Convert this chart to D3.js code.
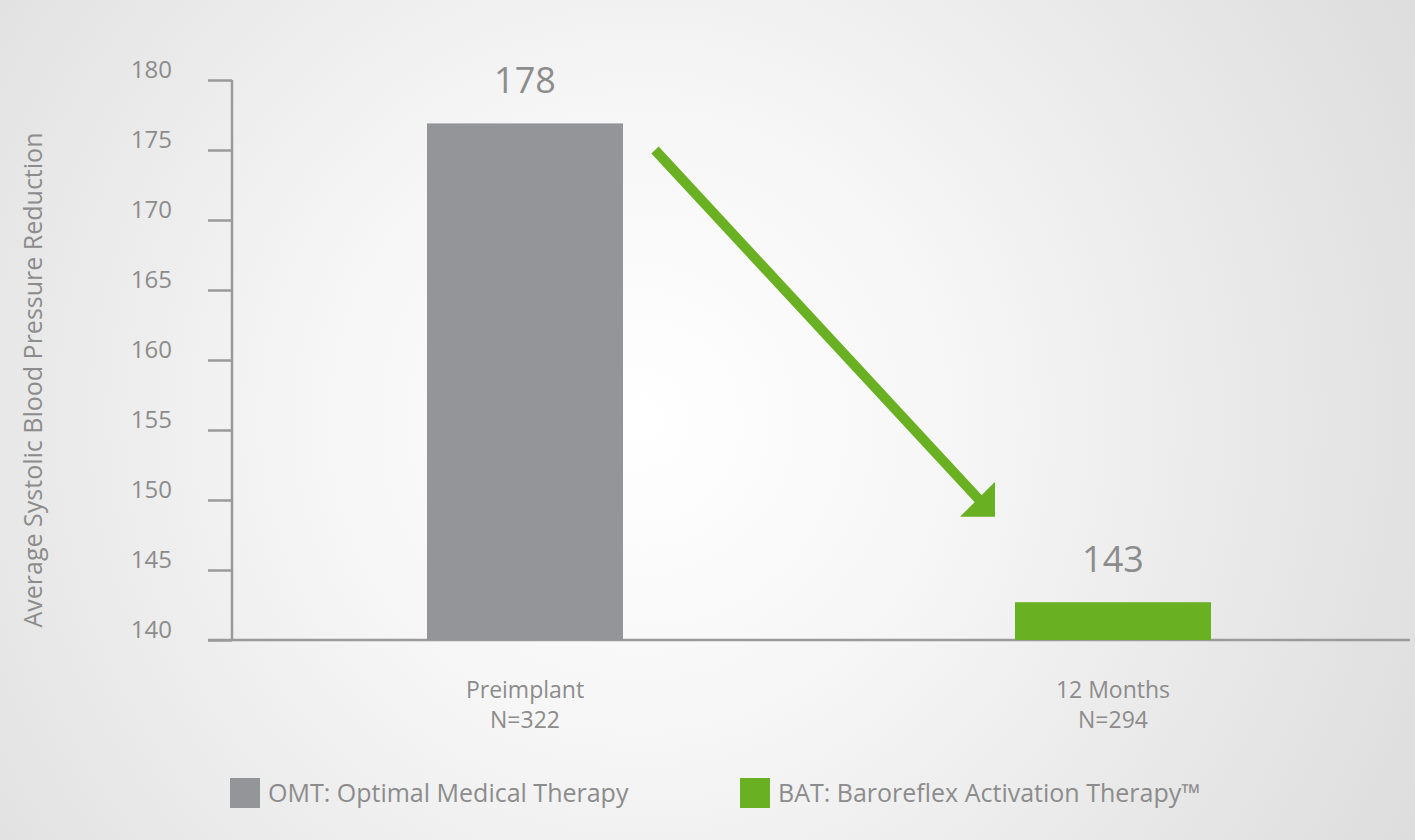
<!DOCTYPE html>
<html><head><meta charset="utf-8">
<script src="https://cdn.jsdelivr.net/npm/d3@7"></script>
<style>body{margin:0;overflow:hidden}svg{display:block}text{font-family:"Open Sans","Noto Sans",sans-serif;fill:#8c8c8c}</style>
</head><body>
<script>
const categories = ["Preimplant", "12 Months"];
const sampleSizes = ["N=322", "N=294"];
const values = [176.9, 142.7];
const valueLabels = ["178", "143"];
const yTicks = [140,145,150,155,160,165,170,175,180];
const legendLabels = ["OMT: Optimal Medical Therapy", "BAT: Baroreflex Activation Therapy™"];
const colors = ["#939598", "#6ab023"];

const W=1415,H=840;
const svg=d3.select("body").append("svg").attr("width",W).attr("height",H);
const defs=svg.append("defs");
const g=defs.append("radialGradient").attr("id","bg").attr("cx",640).attr("cy",420).attr("r",900).attr("gradientUnits","userSpaceOnUse");
g.append("stop").attr("offset","0").attr("stop-color","#ffffff");
g.append("stop").attr("offset","0.35").attr("stop-color","#f6f6f6");
g.append("stop").attr("offset","1").attr("stop-color","#dcdcdc");
svg.append("rect").attr("width",W).attr("height",H).attr("fill","url(#bg)");

const y=d3.scaleLinear().domain([140,180]).range([640,80]);
const x=d3.scaleBand().domain(categories).range([250.6,1387.4]).paddingInner(2/3).paddingOuter(0.3);

const ax=svg.append("g").attr("transform","translate(232,0)").call(d3.axisLeft(y).tickValues(yTicks).tickSize(24).tickFormat(""));
ax.selectAll("line,path").attr("stroke","#9a9a9a").attr("stroke-width",2.5);
ax.select("path").attr("d","M0,80V640");
svg.selectAll("text.yt").data(yTicks).join("text").attr("class","yt")
 .attr("x",172).attr("y",d=>y(d)-2).attr("text-anchor","end").attr("font-size",24).text(d=>d);
svg.append("line").attr("x1",208).attr("x2",1410).attr("y1",640).attr("y2",640).attr("stroke","#9a9a9a").attr("stroke-width",2.5);

svg.selectAll("rect.bar").data(values).join("rect").attr("class","bar")
 .attr("x",(d,i)=>x(categories[i])).attr("width",x.bandwidth())
 .attr("y",d=>y(d)).attr("height",d=>640-y(d)).attr("fill",(d,i)=>colors[i]);
svg.selectAll("text.vl").data(values).join("text").attr("class","vl")
 .attr("x",(d,i)=>x(categories[i])+x.bandwidth()/2).attr("y",d=>y(d)-30)
 .attr("text-anchor","middle").attr("font-size",36).text((d,i)=>valueLabels[i]);
categories.forEach((c,i)=>{
 const cx=x(c)+x.bandwidth()/2;
 svg.append("text").attr("x",cx).attr("y",698).attr("text-anchor","middle").attr("font-size",23).text(c);
 svg.append("text").attr("x",cx).attr("y",728).attr("text-anchor","middle").attr("font-size",23).text(sampleSizes[i]);
});

const x0=x(categories[0])+x.bandwidth()+32, y0=y(175);
const x1=995, y1=y(148.8);
const ang=Math.atan2(y1-y0,x1-x0);
svg.append("line").attr("x1",x0).attr("y1",y0).attr("x2",x1-20*Math.cos(ang)).attr("y2",y1-20*Math.sin(ang))
 .attr("stroke",colors[1]).attr("stroke-width",10);
svg.append("path").attr("d",`M${x1},${y1} L${x1},${y1-35} L${x1-35},${y1} Z`).attr("fill",colors[1]);

svg.append("text").attr("transform","translate(42,380) rotate(-90)").attr("text-anchor","middle").attr("font-size",25).text("Average Systolic Blood Pressure Reduction");

const lx=[230,740];
legendLabels.forEach((l,i)=>{
 svg.append("rect").attr("x",lx[i]).attr("y",778).attr("width",30).attr("height",30).attr("fill",colors[i]);
 svg.append("text").attr("x",lx[i]+38).attr("y",802).attr("font-size",25).text(l);
});
</script>
</body></html>
